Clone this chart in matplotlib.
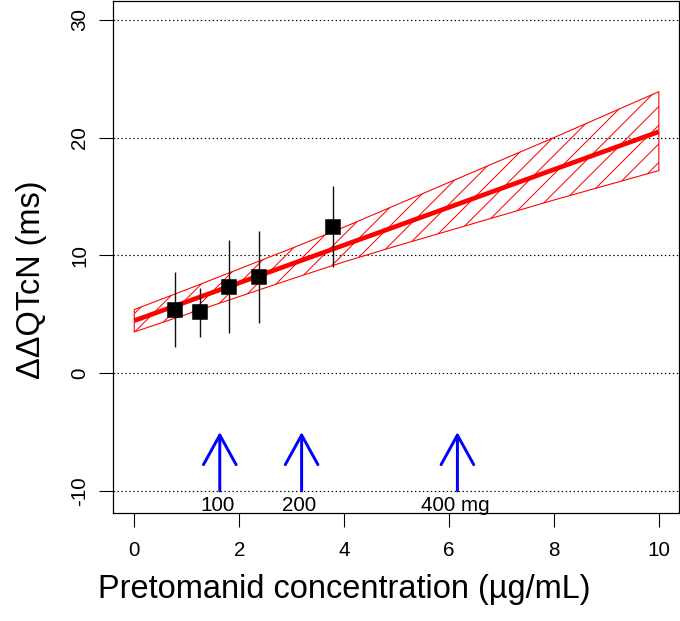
"""Pretomanid concentration vs. ddQTcN with fitted line, CI band and dose arrows."""

import matplotlib

matplotlib.use("Agg")
import matplotlib.pyplot as plt

DPI = 112
plt.rcParams["font.family"] = ["Liberation Sans", "DejaVu Sans"]
plt.rcParams["axes.unicode_minus"] = False
plt.rcParams["hatch.linewidth"] = 0.65

# observed bins: mean concentration, mean ddQTcN, 90% CI
obs_conc = [0.78, 1.25, 1.81, 2.37, 3.79]
obs_mean = [5.4, 5.2, 7.3, 8.15, 12.4]
obs_lo = [2.2, 3.1, 3.4, 4.25, 9.0]
obs_hi = [8.55, 7.25, 11.3, 12.1, 15.85]

# model prediction and its confidence band
fit_conc = [0, 10]
fit_pred = [4.46, 20.5]
band_conc = [0, 1, 2, 3, 4, 5, 6, 7, 8, 9, 10]
band_hi = [5.4, 7.1, 8.85, 10.6, 12.4, 14.3, 16.2, 18.1, 20.0, 21.95, 23.9]
band_lo = [3.5, 5.0, 6.5, 8.0, 9.45, 10.8, 12.1, 13.4, 14.7, 15.95, 17.2]

# Cmax at each dose
dose_conc = [1.63, 3.19, 6.16]
dose_labels = ["100", "200", "400 mg"]

x_ticks = [0, 2, 4, 6, 8, 10]
y_ticks = [-10, 0, 10, 20, 30]


def main():
    fig = plt.figure(figsize=(680 / DPI, 621 / DPI), dpi=DPI)
    ax = fig.add_axes([113.3 / 680, 1 - 513.3 / 621, 566 / 680, 512.3 / 621])
    ax.set_xlim(-0.4, 10.39)
    ax.set_ylim(-11.9, 31.6)

    for y in y_ticks:
        ax.axhline(y, color="black", lw=0.75, ls=(0, (1.2, 2.2)), zorder=1)

    ax.fill_between(band_conc, band_lo, band_hi, facecolor="none",
                    edgecolor="#ff0000", hatch="//", lw=0.7, zorder=2)
    ax.plot(fit_conc, fit_pred, color="#ff0000", lw=3.0, zorder=3,
            solid_capstyle="butt")

    ax.vlines(obs_conc, obs_lo, obs_hi, color="#111111", lw=0.9, zorder=4)
    ax.plot(obs_conc, obs_mean, ls="none", marker="s", ms=8.4, color="black",
            zorder=5)

    for xc, lab in zip(dose_conc, dose_labels):
        ax.annotate("", xy=(xc, -5.0), xytext=(xc, -10.0),
                    arrowprops=dict(arrowstyle="->,head_length=19,head_width=10.5",
                                    color="#0000ff", lw=1.9, mutation_scale=1,
                                    shrinkA=0, shrinkB=0), zorder=6)
        ax.text(xc - 0.04, -11.74, lab, ha="center", va="baseline",
                fontsize=13.3, zorder=6)

    ax.set_xticks(x_ticks)
    ax.set_yticks(y_ticks)
    ax.tick_params(axis="both", length=8.7, width=0.7, labelsize=13.3,
                   direction="out")
    ax.tick_params(axis="x", pad=9)
    ax.tick_params(axis="y", pad=7)
    for lab in ax.get_yticklabels():
        lab.set_rotation(90)
        lab.set_va("center")
    for side in ax.spines.values():
        side.set_linewidth(0.8)

    fig.text(344 / 680, 1 - 598.3 / 621, "Pretomanid concentration (µg/mL)",
             ha="center", va="baseline", fontsize=20.9)
    fig.text(32 / 680, 1 - 280 / 621, "ΔΔQTcN (ms)", ha="center", va="center",
             rotation=90, fontsize=20.9)

    fig.savefig("out.png", dpi=DPI)
    plt.close(fig)


if __name__ == "__main__":
    main()
